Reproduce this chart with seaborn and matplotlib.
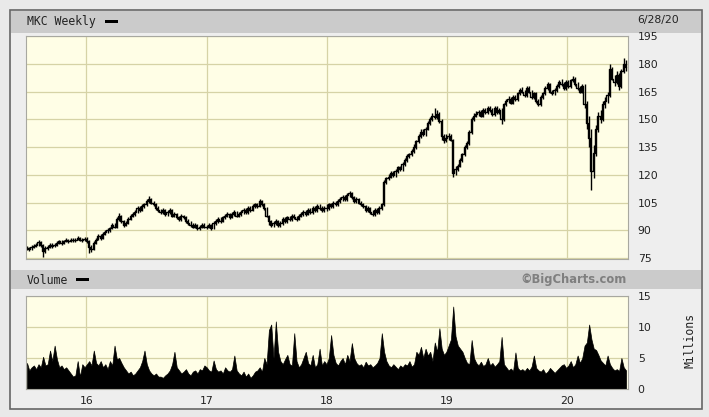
import numpy as np
import pandas as pd
import seaborn as sns
import matplotlib.pyplot as plt
from matplotlib.patches import Rectangle

# weekly bars for MKC (price in $, volume in millions)
close_2015 = [80.5, 80, 81, 81.5, 82, 83.5, 82, 79, 80.5, 81, 82, 81.5, 82,
              83, 84, 83, 84, 85, 84, 85, 84.5, 85, 86, 85, 84.5, 85.5]
high_2015 = [81.5, 81.2, 82, 82.5, 83, 84.5, 84, 82.5, 81.5, 82, 83, 83, 83,
             84, 85, 84.5, 85, 86, 85.5, 86, 85.8, 86, 87, 86.5, 86, 86.5]
low_2015 = [79.2, 79, 79.5, 80.5, 81, 81.5, 81, 75.5, 77.5, 79.5, 80.5, 80.5, 80.8,
            81.5, 82.5, 82, 82.5, 83.5, 83, 83.5, 83.5, 83.8, 84.5, 84, 83.5, 84]
vol_2015 = [4.2, 3.0, 3.5, 3.8, 3.2, 4.0, 3.5, 5.2, 3.8, 4.0, 6.2, 4.5, 7.0,
            4.8, 3.5, 3.8, 3.2, 3.5, 3.0, 2.5, 2.0, 2.2, 4.5, 2.0, 4.0, 3.5]

close_2016 = [84, 81, 80, 83, 85, 87, 86, 88, 89, 90, 91, 93, 92,
              96, 98, 95, 93, 94, 96, 98, 99, 100, 102, 101, 103, 104,
              106, 107, 105, 104, 102, 101, 100, 101, 99, 100, 101, 98, 99,
              97, 96, 98, 97, 95, 94, 93, 92, 93, 91, 92, 93, 92]
high_2016 = [86.5, 84.5, 82, 84, 86, 88, 88, 89, 90, 91, 92, 94, 94,
             97, 99.5, 98.5, 95.5, 95, 97, 99, 100, 101, 103, 103, 104, 105,
             107, 108.5, 107.5, 106, 104.5, 103, 101.5, 102, 101.5, 101, 102, 101.5, 100,
             99.5, 98, 99, 98.5, 97.5, 96, 95, 94, 94, 93.5, 93, 94, 94]
low_2016 = [83, 78, 78.5, 79.5, 82.5, 84.5, 85, 85.5, 87.5, 88.5, 89, 90.5, 91,
            91.5, 95, 94, 92, 92.5, 93.5, 95.5, 97, 98, 99.5, 100, 100.5, 102,
            103, 105, 104, 103, 101, 100, 99, 99, 98, 98, 99, 97, 97,
            96, 95, 95, 96, 94, 93, 92, 91, 91, 90, 90, 91, 91]
vol_2016 = [4.0, 4.5, 3.8, 6.2, 4.2, 3.8, 4.5, 3.5, 4.0, 3.2, 4.5, 3.8, 7.0,
            4.8, 5.0, 4.2, 3.5, 3.0, 2.5, 2.8, 2.2, 2.5, 3.0, 3.5, 4.5, 6.2,
            4.0, 3.0, 2.5, 2.2, 2.5, 2.0, 2.0, 1.8, 2.2, 2.5, 3.0, 4.0, 6.0,
            3.5, 3.0, 2.5, 2.8, 3.2, 2.5, 2.2, 2.8, 3.0, 2.5, 3.2, 3.0, 3.8]

close_2017 = [92, 93, 91, 94, 95, 96, 95, 97, 98, 99, 97, 99, 100,
              98, 99, 100, 101, 100, 102, 101, 103, 104, 103, 106, 104, 102,
              98, 95, 93, 94, 95, 93, 94, 96, 95, 97, 96, 98, 97,
              96, 98, 99, 100, 99, 101, 100, 102, 101, 103, 102, 101, 102]
high_2017 = [93, 94, 93.5, 95, 96, 97, 97, 98, 99, 100, 99.5, 100, 101,
             100.5, 100, 101, 102, 102, 103, 103, 104, 105, 105, 107, 106.5, 104.5,
             102.5, 98.5, 95.5, 95, 96, 95.5, 95, 97, 97, 98, 98, 99, 99,
             98, 99, 100, 101, 101, 102, 102, 103, 103, 104, 104, 103, 103]
low_2017 = [90.5, 91, 90, 90.5, 93, 94, 94, 94.5, 96, 97, 96, 96.5, 98,
            97, 97, 98, 99, 99, 99, 100, 100.5, 102, 102, 102.5, 103, 101,
            97, 93, 92, 92, 93, 92, 92, 93, 94, 94, 95, 95, 96,
            95, 95.5, 97, 98, 98, 98.5, 99, 99, 100, 100, 101, 100, 100]
vol_2017 = [3.5, 3.0, 2.8, 4.6, 3.2, 2.8, 3.0, 2.5, 3.5, 3.0, 2.8, 3.2, 5.4,
            3.0, 2.5, 2.2, 2.8, 2.0, 2.5, 1.8, 2.2, 2.8, 3.0, 3.5, 2.8, 5.0,
            4.0, 9.5, 10.4, 5.0, 10.9, 6.0, 4.5, 4.0, 4.8, 5.5, 4.0, 3.8, 9.0,
            4.5, 3.5, 4.0, 5.0, 6.0, 4.2, 3.8, 5.5, 3.5, 4.0, 6.5, 3.8, 4.5]

close_2018 = [102, 104, 103, 105, 104, 106, 107, 108, 107, 109, 110, 108, 106,
              107, 105, 104, 103, 101, 102, 100, 99, 101, 100, 102, 104, 116,
              118, 119, 121, 120, 122, 124, 123, 126, 128, 130, 131, 133, 135,
              138, 141, 143, 142, 145, 148, 150, 152, 151, 153, 149, 141, 139]
high_2018 = [104, 105, 105, 106, 106, 107, 108, 109, 109, 110, 111.5, 110.5, 108.5,
             108, 107.5, 106, 105, 103.5, 103, 102.5, 101, 102, 102, 103, 105, 117,
             119, 120.5, 122, 122, 123, 125, 125, 127, 129, 131, 132, 134, 136.5,
             139, 142, 144.5, 145, 146, 149, 151.5, 153.5, 156, 155, 154, 150, 142]
low_2018 = [100.5, 101, 102, 102, 103, 103, 105, 106, 106, 106, 108, 107, 105,
            105, 104, 103, 102, 100, 100, 99, 98, 98, 99, 99, 101, 103,
            115, 117, 118, 119, 119, 121, 122, 122, 125, 127, 129, 130, 132,
            134, 137, 140, 141, 141, 144, 147, 149, 150, 150, 148, 139, 137]
vol_2018 = [4.0, 5.0, 8.7, 5.5, 4.2, 3.8, 4.5, 5.0, 4.0, 5.5, 4.5, 7.4, 5.0,
            4.2, 3.8, 4.0, 3.5, 4.4, 3.8, 4.0, 3.5, 3.8, 4.2, 5.0, 9.0, 6.0,
            4.5, 3.8, 3.5, 4.0, 3.6, 3.2, 3.8, 3.5, 4.0, 3.8, 4.5, 3.6, 4.0,
            6.0, 5.5, 6.8, 5.0, 6.5, 5.4, 6.0, 4.5, 7.5, 6.0, 9.8, 6.5, 5.5]

close_2019 = [140, 141, 139, 121, 123, 125, 128, 131, 135, 137, 143, 150, 152,
              153, 154, 152, 155, 154, 156, 155, 153, 156, 154, 155, 150, 158,
              160, 161, 159, 162, 161, 164, 166, 165, 163, 167, 165, 162, 164,
              160, 158, 162, 164, 167, 169, 165, 164, 166, 168, 170, 169, 167]
high_2019 = [142, 142.5, 142, 139.5, 124.5, 126, 129, 132, 136, 138, 144, 151, 153.5,
             154.5, 155, 155, 156, 156, 157, 157, 156, 157, 157, 156, 156, 159,
             161, 162.5, 162, 163, 163, 165, 167, 167.5, 166, 168, 168, 166, 165,
             164.5, 161, 163, 165, 168, 170, 169.5, 166, 167, 169, 171, 171.5, 170]
low_2019 = [137.5, 139, 138, 119, 120, 122, 124, 127, 130, 134, 136, 142, 149,
            151, 152, 151, 151, 153, 153, 154, 152, 152, 153, 153, 147.5, 149,
            157, 159, 158, 158, 160, 160, 163, 164, 162, 162, 164, 161, 161,
            159, 157, 157, 161, 163, 166, 164, 163, 163, 165, 167, 168, 166]
vol_2019 = [6.0, 7.0, 8.0, 13.3, 8.5, 7.0, 6.5, 6.0, 5.0, 4.2, 4.0, 7.9, 5.0,
            4.2, 3.8, 4.4, 3.7, 4.0, 5.0, 3.8, 4.2, 3.6, 4.0, 4.5, 8.4, 4.0,
            3.5, 3.0, 3.3, 2.9, 5.9, 3.4, 3.0, 3.2, 2.9, 3.4, 3.0, 3.6, 5.4,
            3.4, 3.0, 2.8, 3.2, 2.5, 2.8, 3.4, 3.0, 2.6, 3.0, 3.4, 3.8, 4.0]

close_2020 = [170, 168, 171, 172, 169, 167, 165, 168, 158, 148, 140, 122, 132,
              145, 152, 150, 158, 160, 163, 177, 172, 170, 174, 168, 176, 180, 178]
high_2020 = [171, 171, 172, 173.5, 173, 170, 168, 169, 169, 160, 152, 145, 136,
             147, 154, 155, 160, 162, 165, 180, 178, 174, 176, 175, 177, 183, 182]
low_2020 = [166, 167, 167, 170, 168, 166, 164, 164, 156, 145, 135, 112, 118,
            130, 143, 148, 149, 156, 159, 162, 171, 168, 169, 166, 167, 175, 176]
vol_2020 = [3.4, 3.8, 4.5, 3.5, 4.0, 5.4, 4.2, 5.0, 7.0, 7.5, 10.4, 8.0, 6.5,
            6.3, 5.5, 4.6, 4.2, 3.8, 5.4, 4.0, 3.4, 3.0, 3.2, 2.9, 5.0, 3.5, 3.0]

price_ticks = [75, 90, 105, 120, 135, 150, 165, 180, 195]
vol_ticks = [0, 5, 10, 15]
year_labels = ["16", "17", "18", "19", "20"]

# %%
df = pd.DataFrame({
    "week": pd.date_range("2015-07-05", "2020-06-28", freq="W-SUN"),
    "close": close_2015 + close_2016 + close_2017 + close_2018 + close_2019 + close_2020,
    "high": high_2015 + high_2016 + high_2017 + high_2018 + high_2019 + high_2020,
    "low": low_2015 + low_2016 + low_2017 + low_2018 + low_2019 + low_2020,
    "volume": vol_2015 + vol_2016 + vol_2017 + vol_2018 + vol_2019 + vol_2020,
})
year_starts = pd.to_datetime(["2016-01-01", "2017-01-01", "2018-01-01", "2019-01-01", "2020-01-01"])

sns.set_style("white")
plt.rcParams['font.family'] = ['DejaVu Sans']

W, H = 709, 417
fig = plt.figure(figsize=(W / 100, H / 100), dpi=100, facecolor='#e9e9e9')

def fx(px):
    return px / W

def fy(py):
    return 1 - py / H

panel_bg = '#fffee6'
grid_c = '#d6d3a6'
mono = 'DejaVu Sans Mono'

# outer frame and header bars (kept behind the axes)
fig.patches.append(Rectangle((fx(10), fy(409)), fx(702) - fx(10), (409 - 10) / H,
                             transform=fig.transFigure, facecolor='#eeeeee',
                             edgecolor='#666666', lw=1.2, zorder=-10))
fig.patches.append(Rectangle((fx(11), fy(33)), fx(701) - fx(11), (33 - 11) / H,
                             transform=fig.transFigure, facecolor='#cbcbcb', lw=0, zorder=-9))
fig.patches.append(Rectangle((fx(11), fy(289)), fx(701) - fx(11), (289 - 270) / H,
                             transform=fig.transFigure, facecolor='#cbcbcb', lw=0, zorder=-9))
# little black dashes after the titles
fig.patches.append(Rectangle((fx(105), fy(22.5)), fx(13), 3 / H, transform=fig.transFigure,
                             facecolor='black', lw=0, zorder=-8))
fig.patches.append(Rectangle((fx(76), fy(281)), fx(13), 3 / H, transform=fig.transFigure,
                             facecolor='black', lw=0, zorder=-8))

fig.text(fx(27), fy(21), "MKC Weekly", family=mono, fontsize=8.3, color='#222222', va='center')
fig.text(fx(637), fy(20), "6/28/20", fontsize=7.8, color='#222222', va='center')
fig.text(fx(27), fy(280), "Volume", family=mono, fontsize=8.3, color='#222222', va='center')
fig.text(fx(627), fy(280), "©BigCharts.com", fontsize=8.3, fontweight='bold',
         color='#7f7f7f', va='center', ha='right')
fig.text(fx(690), fy(340), "Millions", family=mono, fontsize=8.3, color='#222222',
         va='center', ha='center', rotation=90)

xlim = (pd.Timestamp("2015-07-02"), pd.Timestamp("2020-07-04"))

# %%
# price panel: high-low bars plus the open/close steps
ax = fig.add_axes([fx(26), fy(259), fx(628) - fx(26), (259 - 36) / H])
ax.set_zorder(2)
ax.set_facecolor(panel_bg)
ax.vlines(df["week"], df["low"], df["high"], color='black', lw=1.0)
sns.lineplot(data=df, x="week", y="close", drawstyle='steps-mid', color='black', lw=1.0, ax=ax)
ax.set_xlim(xlim)
ax.set_ylim(74.5, 195)
ax.set_yticks(price_ticks)
ax.set_xticks(year_starts)
ax.yaxis.tick_right()
ax.tick_params(axis='y', length=0, pad=7, labelsize=7.8, labelcolor='#222222')
ax.tick_params(axis='x', length=0, labelbottom=False)
ax.grid(True, color=grid_c, lw=0.9)
ax.set_axisbelow(True)
ax.set_xlabel("")
ax.set_ylabel("")
for s in ax.spines.values():
    s.set_color('#a8a8a0')
    s.set_linewidth(0.8)

# %%
# volume panel
ax2 = fig.add_axes([fx(26), fy(389), fx(628) - fx(26), (389 - 296) / H])
ax2.set_zorder(2)
ax2.set_facecolor(panel_bg)
ax2.fill_between(df["week"], df["volume"], color='black', lw=0.5, edgecolor='black')
ax2.set_xlim(xlim)
ax2.set_ylim(0, 15)
ax2.set_yticks(vol_ticks)
ax2.set_xticks(year_starts)
ax2.set_xticklabels(year_labels)
ax2.yaxis.tick_right()
ax2.tick_params(axis='y', length=0, pad=7, labelsize=7.8, labelcolor='#222222')
ax2.tick_params(axis='x', length=0, pad=5, labelsize=7.8, labelcolor='#222222')
ax2.grid(True, color=grid_c, lw=0.9)
ax2.set_axisbelow(True)
for s in ax2.spines.values():
    s.set_color('#a8a8a0')
    s.set_linewidth(0.8)

fig.savefig("out.png", dpi=100, facecolor=fig.get_facecolor())
